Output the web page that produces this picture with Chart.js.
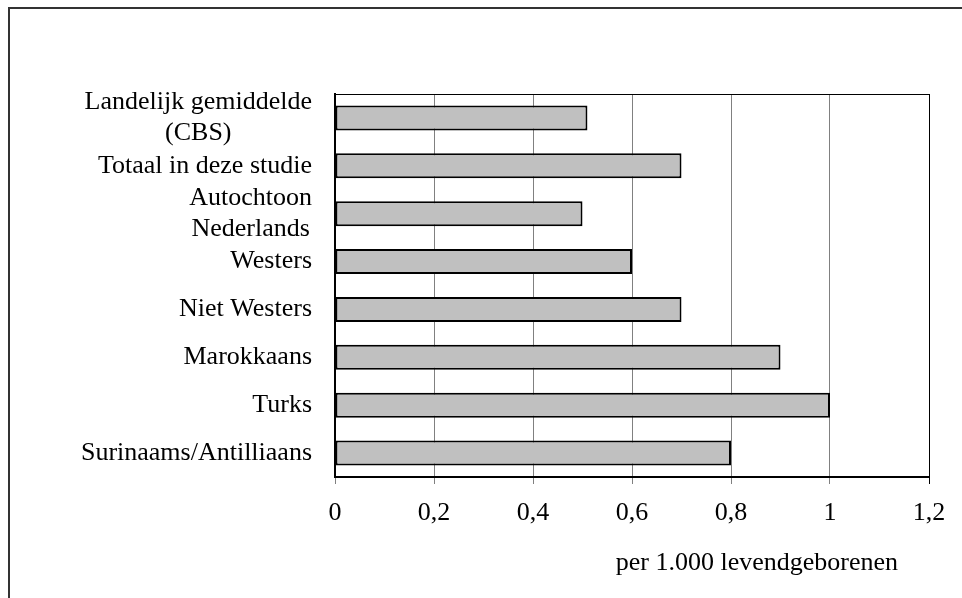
<!DOCTYPE html>
<html>
<head>
<meta charset="utf-8">
<script src="https://cdn.jsdelivr.net/npm/chart.js@4.4.1/dist/chart.umd.min.js"></script>
<style>
  html, body { margin: 0; padding: 0; background: #ffffff; }
  #wrap { width: 962px; height: 598px; position: relative; }
</style>
</head>
<body>
<div id="wrap"><canvas id="c" width="962" height="598"></canvas></div>
<script>
const categories = [
  ['Landelijk gemiddelde', '(CBS)'],
  ['Totaal in deze studie'],
  ['Autochtoon', 'Nederlands'],
  ['Westers'],
  ['Niet Westers'],
  ['Marokkaans'],
  ['Turks'],
  ['Surinaams/Antilliaans']
];
const values = [0.51, 0.7, 0.5, 0.6, 0.7, 0.9, 1.0, 0.8];
const xTickLabels = ['0', '0,2', '0,4', '0,6', '0,8', '1', '1,2'];
const axisTitle = 'per 1.000 levendgeborenen';

const FONT = '"Liberation Serif", "Times New Roman", serif';
Chart.defaults.font.family = FONT;
Chart.defaults.font.size = 26;
Chart.defaults.color = '#000000';

const decor = {
  id: 'decor',
  beforeDraw(chart) {
    const ctx = chart.ctx;
    ctx.save();
    ctx.fillStyle = '#ffffff';
    ctx.fillRect(0, 0, chart.width, chart.height);
    ctx.strokeStyle = '#333333';
    ctx.lineWidth = 2;
    ctx.beginPath();
    ctx.moveTo(9, 598);
    ctx.lineTo(9, 8);
    ctx.lineTo(962, 8);
    ctx.stroke();
    ctx.restore();
  },
  afterDraw(chart) {
    const ctx = chart.ctx;
    const a = chart.chartArea;
    const ys = chart.scales.y;
    ctx.save();
    // top line of plot frame
    ctx.strokeStyle = '#000000';
    ctx.lineWidth = 1;
    ctx.beginPath();
    ctx.moveTo(a.left, a.top + 0.5);
    ctx.lineTo(a.right, a.top + 0.5);
    ctx.stroke();
    // category labels
    ctx.font = '26px ' + FONT;
    ctx.fillStyle = '#000000';
    ctx.textBaseline = 'middle';
    ctx.textAlign = 'center';
    const lh = 31;
    const rightEdge = a.left - 23;
    categories.forEach((lines, i) => {
      const y = ys.getPixelForTick(i);
      const w = Math.max(...lines.map(l => ctx.measureText(l).width));
      const cx = rightEdge - w / 2;
      lines.forEach((l, j) => {
        ctx.fillText(l, cx, y + (j - (lines.length - 1) / 2) * lh);
      });
    });
    // axis title
    ctx.textAlign = 'right';
    ctx.textBaseline = 'alphabetic';
    ctx.fillText(axisTitle, a.right - 31, 570);
    ctx.restore();
  }
};

new Chart(document.getElementById('c'), {
  type: 'bar',
  data: {
    labels: categories.map(c => c.join(' ')),
    datasets: [{
      data: values,
      backgroundColor: '#c0c0c0',
      borderColor: '#000000',
      borderWidth: 2,
      borderSkipped: false,
      categoryPercentage: 1.0,
      barPercentage: 0.52
    }]
  },
  options: {
    indexAxis: 'y',
    responsive: false,
    animation: false,
    devicePixelRatio: 1,
    layout: { padding: { top: 94, right: 33, left: 0, bottom: 0 } },
    plugins: {
      legend: { display: false },
      tooltip: { enabled: false },
      title: { display: false }
    },
    scales: {
      x: {
        type: 'linear',
        min: 0,
        max: 1.2,
        ticks: {
          stepSize: 0.2,
          padding: 14,
          color: '#000000',
          font: { size: 26 },
          maxRotation: 0,
          callback: (v, i) => xTickLabels[i]
        },
        grid: {
          color: (c) => (c.index === xTickLabels.length - 1 ? '#000000' : '#808080'),
          lineWidth: 1,
          tickLength: 7,
          drawTicks: true
        },
        border: { display: true, color: '#000000', width: 2 },
        afterFit: (s) => { s.height = 121; }
      },
      y: {
        type: 'category',
        ticks: { display: false },
        grid: { display: false },
        border: { display: true, color: '#000000', width: 2 },
        afterFit: (s) => { s.width = 335; }
      }
    }
  },
  plugins: [decor]
});
</script>
</body>
</html>
